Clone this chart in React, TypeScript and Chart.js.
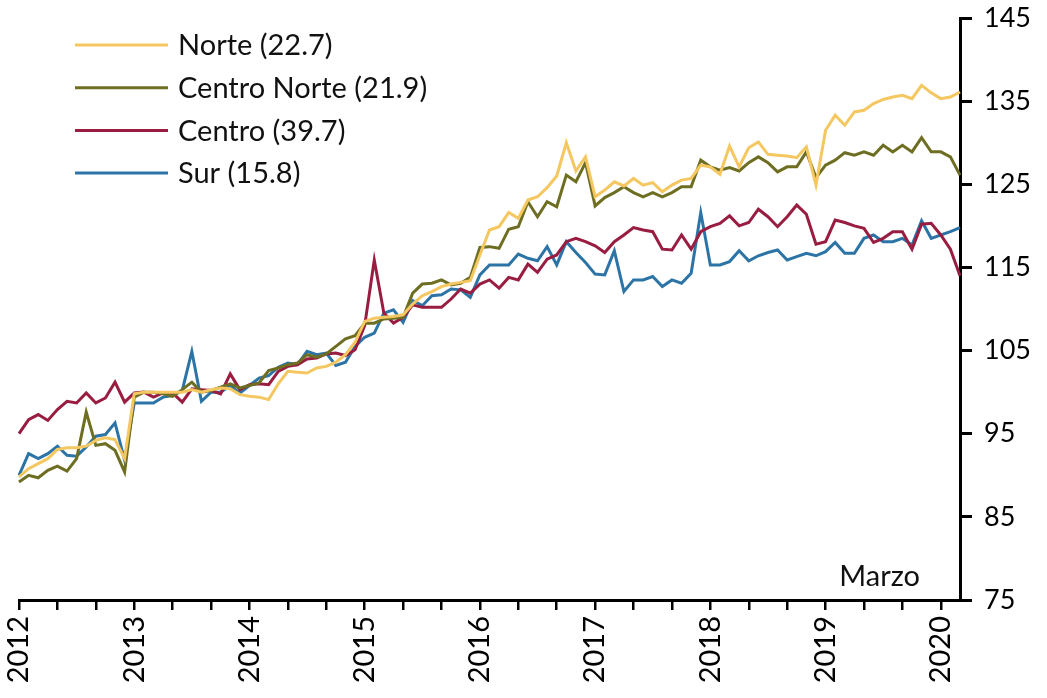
import React, { useEffect, useRef } from "react";
import { Chart, registerables } from "chart.js";

Chart.register(...registerables);

const FONT = "Lato, 'Open Sans', sans-serif";

const startYear = 2012;
const monthCount = 99; // Jan 2012 .. Mar 2020
const months: string[] = [];
for (let i = 0; i < monthCount; i++) {
  const y = startYear + Math.floor(i / 12);
  const m = (i % 12) + 1;
  months.push(`${y}-${m < 10 ? "0" + m : m}`);
}

const yTicks = [75, 85, 95, 105, 115, 125, 135, 145];

const norte = [
  89.8, 90.8, 91.4, 92.0, 93.1, 93.3, 93.3, 93.5, 94.2, 94.5, 94.3, 92.0,
  99.8, 100.0, 100.0, 100.0, 100.0, 100.0, 100.3, 100.0, 100.3, 100.5, 100.4, 99.7,
  99.5, 99.4, 99.1, 101.0, 102.5, 102.4, 102.3, 102.9, 103.1, 103.6, 104.5, 106.0,
  108.5, 108.9, 109.0, 109.1, 109.3, 110.6, 111.6, 112.1, 112.7, 113.0, 113.2, 113.4,
  116.5, 119.5, 119.9, 121.6, 120.9, 123.1, 123.5, 124.6, 126.0, 130.0, 126.6, 128.3,
  123.5, 124.3, 125.3, 124.8, 125.7, 124.9, 125.2, 124.1, 124.9, 125.5, 125.7, 127.3,
  127.1, 126.2, 129.6, 127.1, 129.4, 130.1, 128.6, 128.5, 128.4, 128.2, 129.5, 124.9,
  131.5, 133.3, 132.1, 133.7, 133.9, 134.7, 135.2, 135.5, 135.7, 135.3, 136.9, 136.0,
  135.3, 135.5, 136.1,
];

const centroNorte = [
  89.2, 90.0, 89.7, 90.6, 91.1, 90.5, 92.0, 97.6, 93.6, 93.8, 93.0, 90.4,
  99.4, 100.0, 100.0, 99.8, 99.5, 100.3, 101.2, 100.0, 100.2, 100.6, 101.0, 100.5,
  100.8, 101.1, 102.6, 102.9, 103.3, 103.5, 104.5, 104.2, 104.6, 105.5, 106.4, 106.8,
  108.3, 108.3, 108.8, 108.9, 109.0, 111.9, 113.0, 113.1, 113.5, 112.9, 113.1, 113.8,
  117.4, 117.5, 117.3, 119.6, 119.9, 122.9, 121.1, 122.9, 122.3, 126.1, 125.3, 127.6,
  122.4, 123.4, 124.0, 124.7, 124.0, 123.5, 124.0, 123.5, 124.0, 124.7, 124.7, 127.9,
  127.1, 126.7, 127.0, 126.6, 127.6, 128.3, 127.6, 126.5, 127.1, 127.1, 128.9, 125.8,
  127.3, 127.9, 128.8, 128.5, 128.9, 128.5, 129.7, 128.9, 129.7, 128.9, 130.6, 128.9,
  128.9, 128.3, 126.1,
];

const centro = [
  95.0, 96.7, 97.3, 96.6, 97.9, 98.9, 98.7, 99.9, 98.7, 99.3, 101.2, 98.8,
  99.9, 100.0, 99.4, 99.9, 99.9, 98.8, 100.4, 100.3, 100.2, 99.8, 102.2, 100.3,
  100.9, 101.0, 100.9, 102.5, 103.1, 103.3, 104.0, 104.1, 104.6, 104.7, 104.4, 105.1,
  108.0, 115.9, 109.5, 108.3, 109.0, 110.5, 110.2, 110.2, 110.2, 111.2, 112.4, 111.9,
  113.0, 113.5, 112.5, 113.8, 113.5, 115.4, 114.4, 116.0, 116.5, 118.1, 118.5, 118.1,
  117.6, 116.8, 118.1, 118.9, 119.8, 119.5, 119.3, 117.2, 117.1, 118.9, 117.2, 119.3,
  119.9, 120.3, 121.2, 120.0, 120.4, 122.0, 121.1, 119.9, 121.1, 122.5, 121.4, 117.8,
  118.1, 120.7, 120.4, 120.0, 119.7, 118.0, 118.5, 119.3, 119.3, 117.2, 120.2, 120.3,
  118.9, 117.2, 114.0,
];

const sur = [
  90.0, 92.6, 92.0, 92.6, 93.5, 92.4, 92.3, 93.4, 94.7, 94.9, 96.3, 91.8,
  98.7, 98.7, 98.7, 99.4, 99.6, 100.2, 104.9, 98.9, 100.0, 100.0, 100.8, 99.9,
  100.8, 101.7, 102.0, 103.0, 103.5, 103.3, 104.9, 104.5, 104.7, 103.2, 103.6, 105.5,
  106.6, 107.1, 109.5, 109.9, 108.4, 111.0, 110.4, 111.6, 111.7, 112.4, 112.3, 111.4,
  114.1, 115.3, 115.3, 115.3, 116.6, 116.1, 115.8, 117.5, 115.3, 118.1, 116.8, 115.6,
  114.2, 114.1, 117.0, 112.1, 113.5, 113.5, 113.9, 112.7, 113.5, 113.1, 114.3, 121.6,
  115.3, 115.3, 115.7, 117.0, 115.8, 116.4, 116.8, 117.1, 115.9, 116.3, 116.7, 116.4,
  116.9, 118.0, 116.7, 116.7, 118.5, 118.9, 118.1, 118.1, 118.5, 117.7, 120.6, 118.5,
  118.9, 119.3, 119.8,
];

const seriesLabels = ["Norte (22.7)", "Centro Norte (21.9)", "Centro (39.7)", "Sur (15.8)"];
const seriesColors = ["#F4C760", "#6E6E22", "#981D40", "#2D74A6"];
const seriesData = [norte, centroNorte, centro, sur];
const noteText = "Marzo";

const legendPlugin = {
  id: "customLegend",
  afterDraw(chart: any) {
    const { ctx, chartArea } = chart;
    ctx.save();
    ctx.font = `29px ${FONT}`;
    ctx.textBaseline = "middle";
    ctx.textAlign = "left";
    chart.data.datasets.forEach((ds: any, i: number) => {
      const y = chartArea.top + 27 + i * 42.7;
      const x0 = chartArea.left + 56;
      ctx.strokeStyle = ds.borderColor;
      ctx.lineWidth = 3;
      ctx.beginPath();
      ctx.moveTo(x0, y);
      ctx.lineTo(x0 + 93, y);
      ctx.stroke();
      ctx.fillStyle = "#111";
      ctx.fillText(ds.label, x0 + 103, y + 1);
    });
    ctx.textAlign = "right";
    ctx.textBaseline = "alphabetic";
    ctx.fillText(noteText, chartArea.right - 40, chartArea.bottom - 14);
    ctx.restore();
  },
};

export default function App() {
  const ref = useRef<HTMLCanvasElement | null>(null);
  useEffect(() => {
    document.body.style.margin = "0";
    const canvas = ref.current;
    if (!canvas) return;
    const chart = new Chart(canvas, {
      type: "line",
      data: {
        labels: months,
        datasets: seriesData.map((d, i) => ({
          label: seriesLabels[i],
          data: d,
          borderColor: seriesColors[i],
          backgroundColor: seriesColors[i],
          borderWidth: 3,
          pointRadius: 0,
          tension: 0,
          fill: false,
        })),
      },
      options: {
        animation: false,
        responsive: false,
        devicePixelRatio: 1,
        layout: { padding: { left: 19, top: 18, right: 0, bottom: 0 } },
        plugins: {
          legend: { display: false },
          tooltip: { enabled: false },
        },
        scales: {
          x: {
            type: "category",
            offset: false,
            afterFit(scale: any) {
              scale.height = 98;
              scale.paddingLeft = 0;
              scale.paddingRight = 0;
            },
            border: { display: true, color: "#000", width: 3 },
            grid: {
              drawOnChartArea: false,
              drawTicks: true,
              tickLength: 10,
              lineWidth: 2.5,
              color: (c: any) => (c.index % 4 === 0 ? "#000" : "rgba(0,0,0,0)"),
            },
            ticks: {
              autoSkip: false,
              maxRotation: 90,
              minRotation: 90,
              padding: 6,
              color: "#000",
              font: { family: FONT, size: 29 },
              callback: (_v: any, idx: number) =>
                idx % 12 === 0 ? String(startYear + idx / 12) : "",
            },
          },
          y: {
            position: "right",
            min: 75,
            max: 145,
            afterFit(scale: any) {
              scale.width = 87;
              scale.paddingTop = 0;
              scale.paddingBottom = 0;
            },
            afterBuildTicks(scale: any) {
              scale.ticks = yTicks.map((v) => ({ value: v }));
            },
            border: { display: true, color: "#000", width: 3 },
            grid: {
              drawOnChartArea: false,
              drawTicks: true,
              tickLength: 12,
              lineWidth: 3,
              color: "#000",
            },
            ticks: {
              padding: 12,
              color: "#000",
              font: { family: FONT, size: 27 },
            },
          },
        },
      },
      plugins: [legendPlugin],
    });
    return () => chart.destroy();
  }, []);
  return (
    <div style={{ width: 1047, height: 698, background: "#fff" }}>
      <canvas ref={ref} width={1047} height={698} />
    </div>
  );
}
